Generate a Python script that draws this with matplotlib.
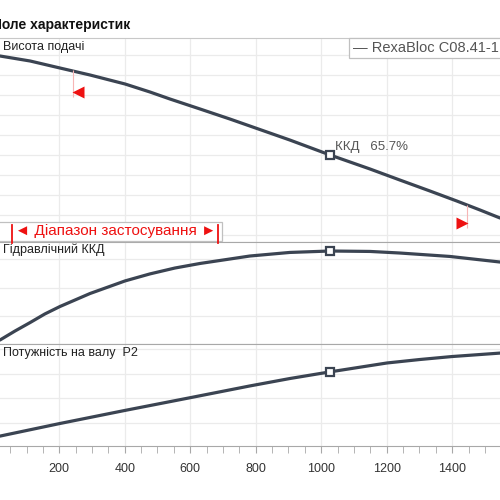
import matplotlib
matplotlib.use("Agg")
import matplotlib.pyplot as plt
from matplotlib.patches import Rectangle
from matplotlib.lines import Line2D
from matplotlib.transforms import blended_transform_factory

plt.rcParams['font.family'] = ['Liberation Sans', 'DejaVu Sans']

# flow values
q_head = [19, 111, 202, 294, 401, 477, 538, 630, 721, 782, 904, 1027,
          1149, 1240, 1332, 1414, 1485, 1546]
head = [18.95, 18.7, 18.35, 18.0, 17.55, 17.15, 16.8, 16.3, 15.8, 15.45, 14.75, 14.0,
        13.3, 12.75, 12.2, 11.7, 11.25, 10.85]

q_eff = [19, 65, 111, 156, 202, 294, 401, 477, 553, 630, 782, 904, 1027,
         1149, 1240, 1393, 1546]
eff = [3.5, 9.8, 15.7, 21.7, 26.9, 36.0, 44.8, 49.7, 53.8, 57.0, 62.2, 64.7, 65.7,
       65.4, 64.3, 61.9, 58.0]

q_pow = [19, 202, 401, 602, 782, 904, 1027, 1201, 1301, 1399, 1546]
power = [0.47, 0.98, 1.51, 2.03, 2.50, 2.80, 3.07, 3.43, 3.57, 3.69, 3.83]

duty_q = 1027
duty_head = 14.0
duty_eff = 65.7
duty_pow = 3.07

arrow_left = (257, 17.15)
arrow_right = (1430, 10.6)
mark_left = (242, 16.9, 18.25)
mark_right = (1445, 10.35, 11.5)
range_bars = [55, 685]

xticks = [200, 400, 600, 800, 1000, 1200, 1400]
xlim = (19, 1546)

line_col = '#3b4452'
grid_col = '#ebebeb'
border_col = '#a8a8a8'

fig = plt.figure(figsize=(5, 5), dpi=100)
ax1 = fig.add_axes([0, 0.516, 1, 0.408])
ax2 = fig.add_axes([0, 0.312, 1, 0.204])
ax3 = fig.add_axes([0, 0.108, 1, 0.204])

for ax in (ax1, ax2, ax3):
    ax.set_xlim(*xlim)
    ax.set_xticks(xticks)
    ax.set_xticks(range(50, 1550, 50), minor=True)
    ax.grid(True, which='major', color=grid_col, lw=0.9)
    ax.set_axisbelow(True)
    for s in ('left', 'right'):
        ax.spines[s].set_visible(False)
    ax.spines['top'].set_color(border_col)
    ax.spines['bottom'].set_color(border_col)
    ax.tick_params(left=False, labelleft=False)

for ax in (ax1, ax2):
    ax.tick_params(axis='x', which='both', bottom=False, labelbottom=False)

ax1.spines['top'].set_color('#c8c8c8')
ax1.set_ylim(9.65, 19.85)
ax1.set_yticks(range(10, 20))
ax2.set_ylim(0.7, 72.0)
ax2.set_yticks([20, 40, 60])
ax3.set_ylim(0.069, 4.198)
ax3.set_yticks([1, 2, 3, 4])
ax3.tick_params(axis='x', which='both', direction='out', length=5,
                color=border_col, labelsize=9, labelcolor='#333333', pad=7)

mk = dict(marker='s', ms=6, mfc='white', mec=line_col, mew=1.6, color=line_col, zorder=5)

ax1.plot(q_head, head, color=line_col, lw=2.3, solid_capstyle='round', solid_joinstyle='round')
ax1.plot([duty_q], [duty_head], **mk)
ax2.plot(q_eff, eff, color=line_col, lw=2.3, solid_capstyle='round', solid_joinstyle='round')
ax2.plot([duty_q], [duty_eff], **mk)
ax3.plot(q_pow, power, color=line_col, lw=2.3, solid_capstyle='round', solid_joinstyle='round')
ax3.plot([duty_q], [duty_pow], **mk)

# operating range markers
ax1.vlines(mark_left[0], mark_left[1], mark_left[2], color='#f7b5b5', lw=0.8)
ax1.vlines(mark_right[0], mark_right[1], mark_right[2], color='#f7b5b5', lw=0.8)
ax1.plot(*arrow_left, marker='<', ms=8, color='#ee1111', mec='none', ls='none')
ax1.plot(*arrow_right, marker='>', ms=8, color='#ee1111', mec='none', ls='none')

ax1.text(duty_q + 16, duty_head + 0.4, 'ККД   65.7%', fontsize=9.5, color='#555555',
         va='center', ha='left')

ax1.text(0.006, 0.955, 'Висота подачі', transform=ax1.transAxes, fontsize=9,
         color='#222222', va='center')
ax2.text(0.006, 0.92, 'Гідравлічний ККД', transform=ax2.transAxes, fontsize=9,
         color='#222222', va='center')
ax3.text(0.006, 0.91, 'Потужність на валу  P2', transform=ax3.transAxes, fontsize=9,
         color='#222222', va='center')

# range label box
fig.patches.append(Rectangle((-0.01, 0.518), 0.454, 0.038, transform=fig.transFigure,
                             facecolor='white', edgecolor='#c0c0c0', lw=0.9, zorder=3))
fig.text(0.232, 0.537, '◄ Діапазон застосування ►', fontsize=11, color='#ee1111',
         ha='center', va='center', zorder=4)
bar_trans = blended_transform_factory(ax1.transData, fig.transFigure)
for qb in range_bars:
    fig.add_artist(Line2D([qb, qb], [0.514, 0.55], transform=bar_trans,
                          color='#ee1111', lw=1.3, zorder=5))

# legend box
fig.patches.append(Rectangle((0.698, 0.884), 0.32, 0.04, transform=fig.transFigure,
                             facecolor='white', edgecolor='#c0c0c0', lw=0.9, zorder=3))
fig.text(0.706, 0.904, '— RexaBloc C08.41-1', fontsize=10.5, color='#555555',
         ha='left', va='center', zorder=4)

fig.text(0.26, 0.95, 'Поле характеристик', fontsize=10, fontweight='bold',
         color='#111111', ha='right', va='center')

fig.savefig('out.png', dpi=100)
